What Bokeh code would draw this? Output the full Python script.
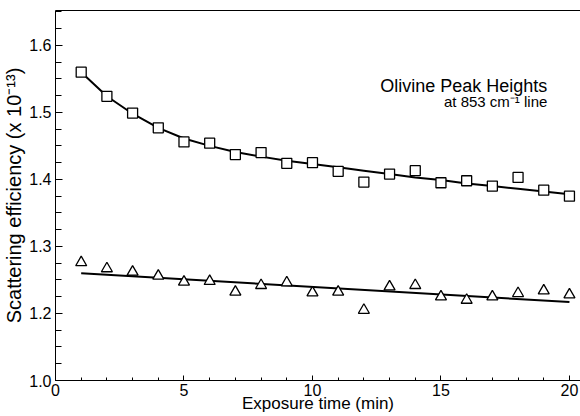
from bokeh.plotting import figure
from bokeh.models import FixedTicker, LinearAxis, Label, Range1d, ColumnDataSource
from bokeh.embed import file_html
from bokeh.resources import INLINE

# ---- data ----
time_min = list(range(1, 21))
squares = [1.560, 1.524, 1.499, 1.477, 1.456, 1.454, 1.437, 1.440, 1.424, 1.425,
           1.412, 1.396, 1.408, 1.413, 1.395, 1.398, 1.390, 1.403, 1.384, 1.375]
square_fit = [1.560, 1.524, 1.498, 1.477, 1.461, 1.450, 1.441, 1.434, 1.428, 1.423,
              1.418, 1.413, 1.408, 1.403, 1.399, 1.394, 1.390, 1.386, 1.382, 1.378]
triangles = [1.276, 1.267, 1.262, 1.256, 1.247, 1.248, 1.232, 1.242, 1.246, 1.231,
             1.232, 1.205, 1.240, 1.242, 1.225, 1.220, 1.225, 1.230, 1.234, 1.228]
tri_fit_x = [1, 20]
tri_fit_y = [1.260, 1.217]

x_major = [0, 5, 10, 15, 20]
x_minor = list(range(0, 21))
y_major = [1.1, 1.2, 1.3, 1.4, 1.5, 1.6]
y_labels = ["1.0", "1.2", "1.3", "1.4", "1.5", "1.6"]
y_minor = [1.1 + 0.025 * k for k in range(0, 23)]

FONT = "Liberation Sans"

p = figure(width=580, height=416, output_backend="svg", toolbar_location=None,
           x_range=Range1d(0, 20.43), y_range=Range1d(1.1, 1.652),
           min_border_left=55, min_border_right=0, min_border_top=10, min_border_bottom=36,
           background_fill_color="white", border_fill_color="white")
p.outline_line_color = None
p.xgrid.visible = False
p.ygrid.visible = False

# axes
xa = p.xaxis[0]
xa.ticker = FixedTicker(ticks=x_major, minor_ticks=x_minor)
xa.major_tick_in = 5
xa.major_tick_out = 0
xa.minor_tick_in = 3
xa.minor_tick_out = 0
xa.axis_label = "Exposure time (min)"
xa.axis_label_text_font = FONT
xa.axis_label_text_font_style = "normal"
xa.axis_label_text_font_size = "17px"
xa.axis_label_text_color = "black"
xa.axis_label_standoff = -5
xa.major_label_text_font = FONT
xa.major_label_text_font_size = "16px"
xa.major_label_text_color = "black"
xa.major_label_standoff = 3
xa.axis_line_color = "black"
xa.major_tick_line_color = "black"
xa.minor_tick_line_color = "black"

ya = p.yaxis[0]
ya.ticker = FixedTicker(ticks=y_major, minor_ticks=y_minor)
ya.major_label_overrides = {v: s for v, s in zip(y_major, y_labels)}
ya.major_tick_in = 7
ya.major_tick_out = 0
ya.minor_tick_in = 6
ya.minor_tick_out = 0
ya.axis_label = "Scattering efficiency (x 10\u207b\u00b9\u00b3)"
ya.axis_label_text_font = FONT
ya.axis_label_text_font_style = "normal"
ya.axis_label_text_font_size = "20px"
ya.axis_label_text_color = "black"
ya.axis_label_standoff = 1
ya.major_label_text_font = FONT
ya.major_label_text_font_size = "16px"
ya.major_label_text_color = "black"
ya.major_label_standoff = 4
ya.axis_line_color = "black"
ya.major_tick_line_color = "black"
ya.minor_tick_line_color = "black"

top = LinearAxis(major_tick_line_color=None, minor_tick_line_color=None,
                 major_label_text_font_size="0px", axis_line_color="black")
top.ticker = FixedTicker(ticks=[])
p.add_layout(top, "above")

# data
src_sq = ColumnDataSource(dict(x=time_min, y=squares, fit=square_fit))
p.line("x", "fit", source=src_sq, line_color="black", line_width=2)
p.scatter("x", "y", source=src_sq, marker="square", size=10, fill_color="white",
          line_color="black", line_width=1.3)

src_tri = ColumnDataSource(dict(x=time_min, y=triangles))
p.line(tri_fit_x, tri_fit_y, line_color="black", line_width=2)
p.scatter("x", "y", source=src_tri, marker="triangle", size=11, fill_color="white",
          line_color="black", line_width=1.3)

# annotation
p.add_layout(Label(x=19.14, y=1.5396, text="Olivine Peak Heights", text_align="right",
                   text_baseline="middle", text_font=FONT, text_font_size="18px",
                   text_color="black"))
p.add_layout(Label(x=19.14, y=1.5158, text="at 853 cm\u207b\u00b9 line", text_align="right",
                   text_baseline="middle", text_font=FONT, text_font_size="15px",
                   text_color="black"))

open("out.html", "w").write(file_html(p, INLINE))
